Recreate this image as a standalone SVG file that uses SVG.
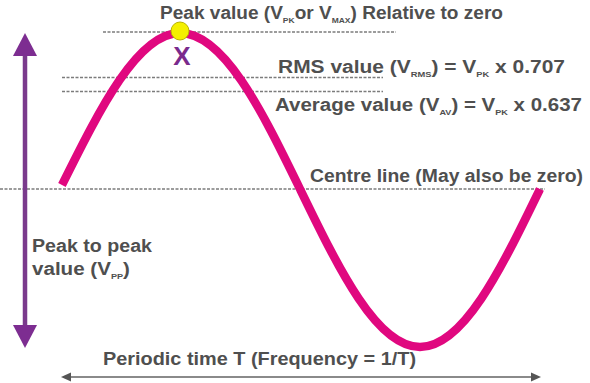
<svg xmlns="http://www.w3.org/2000/svg" width="590" height="383" viewBox="0 0 590 383">
<style>
.lbl{font-family:"Liberation Sans",Arial,sans-serif;font-weight:bold;font-size:18px;fill:#4f4f4f}
.sub{font-size:8px}
.dash{stroke:#7c7c7c;stroke-width:1.6;stroke-dasharray:3 1.5;fill:none}
.wave{stroke:#e0087f;stroke-width:8.5;fill:none}
.pp{stroke:#7a3a8c;stroke-width:4.5}
.pph{fill:#7d2d91}
.per{stroke:#8a8a8a;stroke-width:2}
.perh{fill:#555}
</style>
<rect width="590" height="383" fill="#ffffff"/>
<g id="guides">
<line class="dash" x1="103" y1="32" x2="396" y2="32"/>
<line class="dash" x1="62" y1="77.5" x2="383" y2="77.5"/>
<line class="dash" x1="62" y1="91.5" x2="383" y2="91.5"/>
<line class="dash" x1="0" y1="189" x2="545" y2="189"/>
</g>
<g id="wave">
<path class="wave" d="M62,185 C100.1,108.6 137.6,33 180,33 C223.4,33 260.9,108.6 300,189 C339.1,269.4 376.6,347 420,347 C463.4,347 500.9,269.4 540,189"/>
</g>
<g id="peak">
<circle cx="180" cy="31" r="9" fill="#f4f000" stroke="#b9b400" stroke-width="1"/>
<text x="182" y="65" text-anchor="middle" font-family="Liberation Sans,Arial,sans-serif" font-weight="bold" font-size="26" fill="#7a2a8c">X</text>
</g>
<g id="connectors">
<line class="pp" x1="25" y1="54" x2="25" y2="327"/>
<polygon class="pph" points="25,33 13,56 37,56"/>
<polygon class="pph" points="25,348 13,325 37,325"/>
<line class="per" x1="68" y1="377" x2="534" y2="377"/>
<polygon class="perh" points="61,377 71,372.5 71,381.5"/>
<polygon class="perh" points="541,377 531,372.5 531,381.5"/>
</g>
<g id="labels">
<text class="lbl" x="160" y="19" textLength="343" lengthAdjust="spacingAndGlyphs">Peak value (V<tspan class="sub" dy="4">PK</tspan><tspan dy="-4">or V</tspan><tspan class="sub" dy="4">MAX</tspan><tspan dy="-4">) Relative to zero</tspan></text>
<text class="lbl" x="278" y="73" textLength="287" lengthAdjust="spacingAndGlyphs">RMS value (V<tspan class="sub" dy="4">RMS</tspan><tspan dy="-4">) = V</tspan><tspan class="sub" dy="4">PK</tspan><tspan dy="-4"> x 0.707</tspan></text>
<text class="lbl" x="275" y="111" textLength="307" lengthAdjust="spacingAndGlyphs">Average value (V<tspan class="sub" dy="4">AV</tspan><tspan dy="-4">) = V</tspan><tspan class="sub" dy="4">PK</tspan><tspan dy="-4"> x 0.637</tspan></text>
<text class="lbl" x="310" y="182" textLength="273" lengthAdjust="spacingAndGlyphs">Centre line (May also be zero)</text>
<text class="lbl" x="32" y="252" textLength="120" lengthAdjust="spacingAndGlyphs">Peak to peak</text>
<text class="lbl" x="32" y="275" textLength="98" lengthAdjust="spacingAndGlyphs">value (V<tspan class="sub" dy="4">PP</tspan><tspan dy="-4">)</tspan></text>
<text class="lbl" x="103" y="365" textLength="313" lengthAdjust="spacingAndGlyphs">Periodic time T (Frequency = 1/T)</text>
</g>
</svg>
